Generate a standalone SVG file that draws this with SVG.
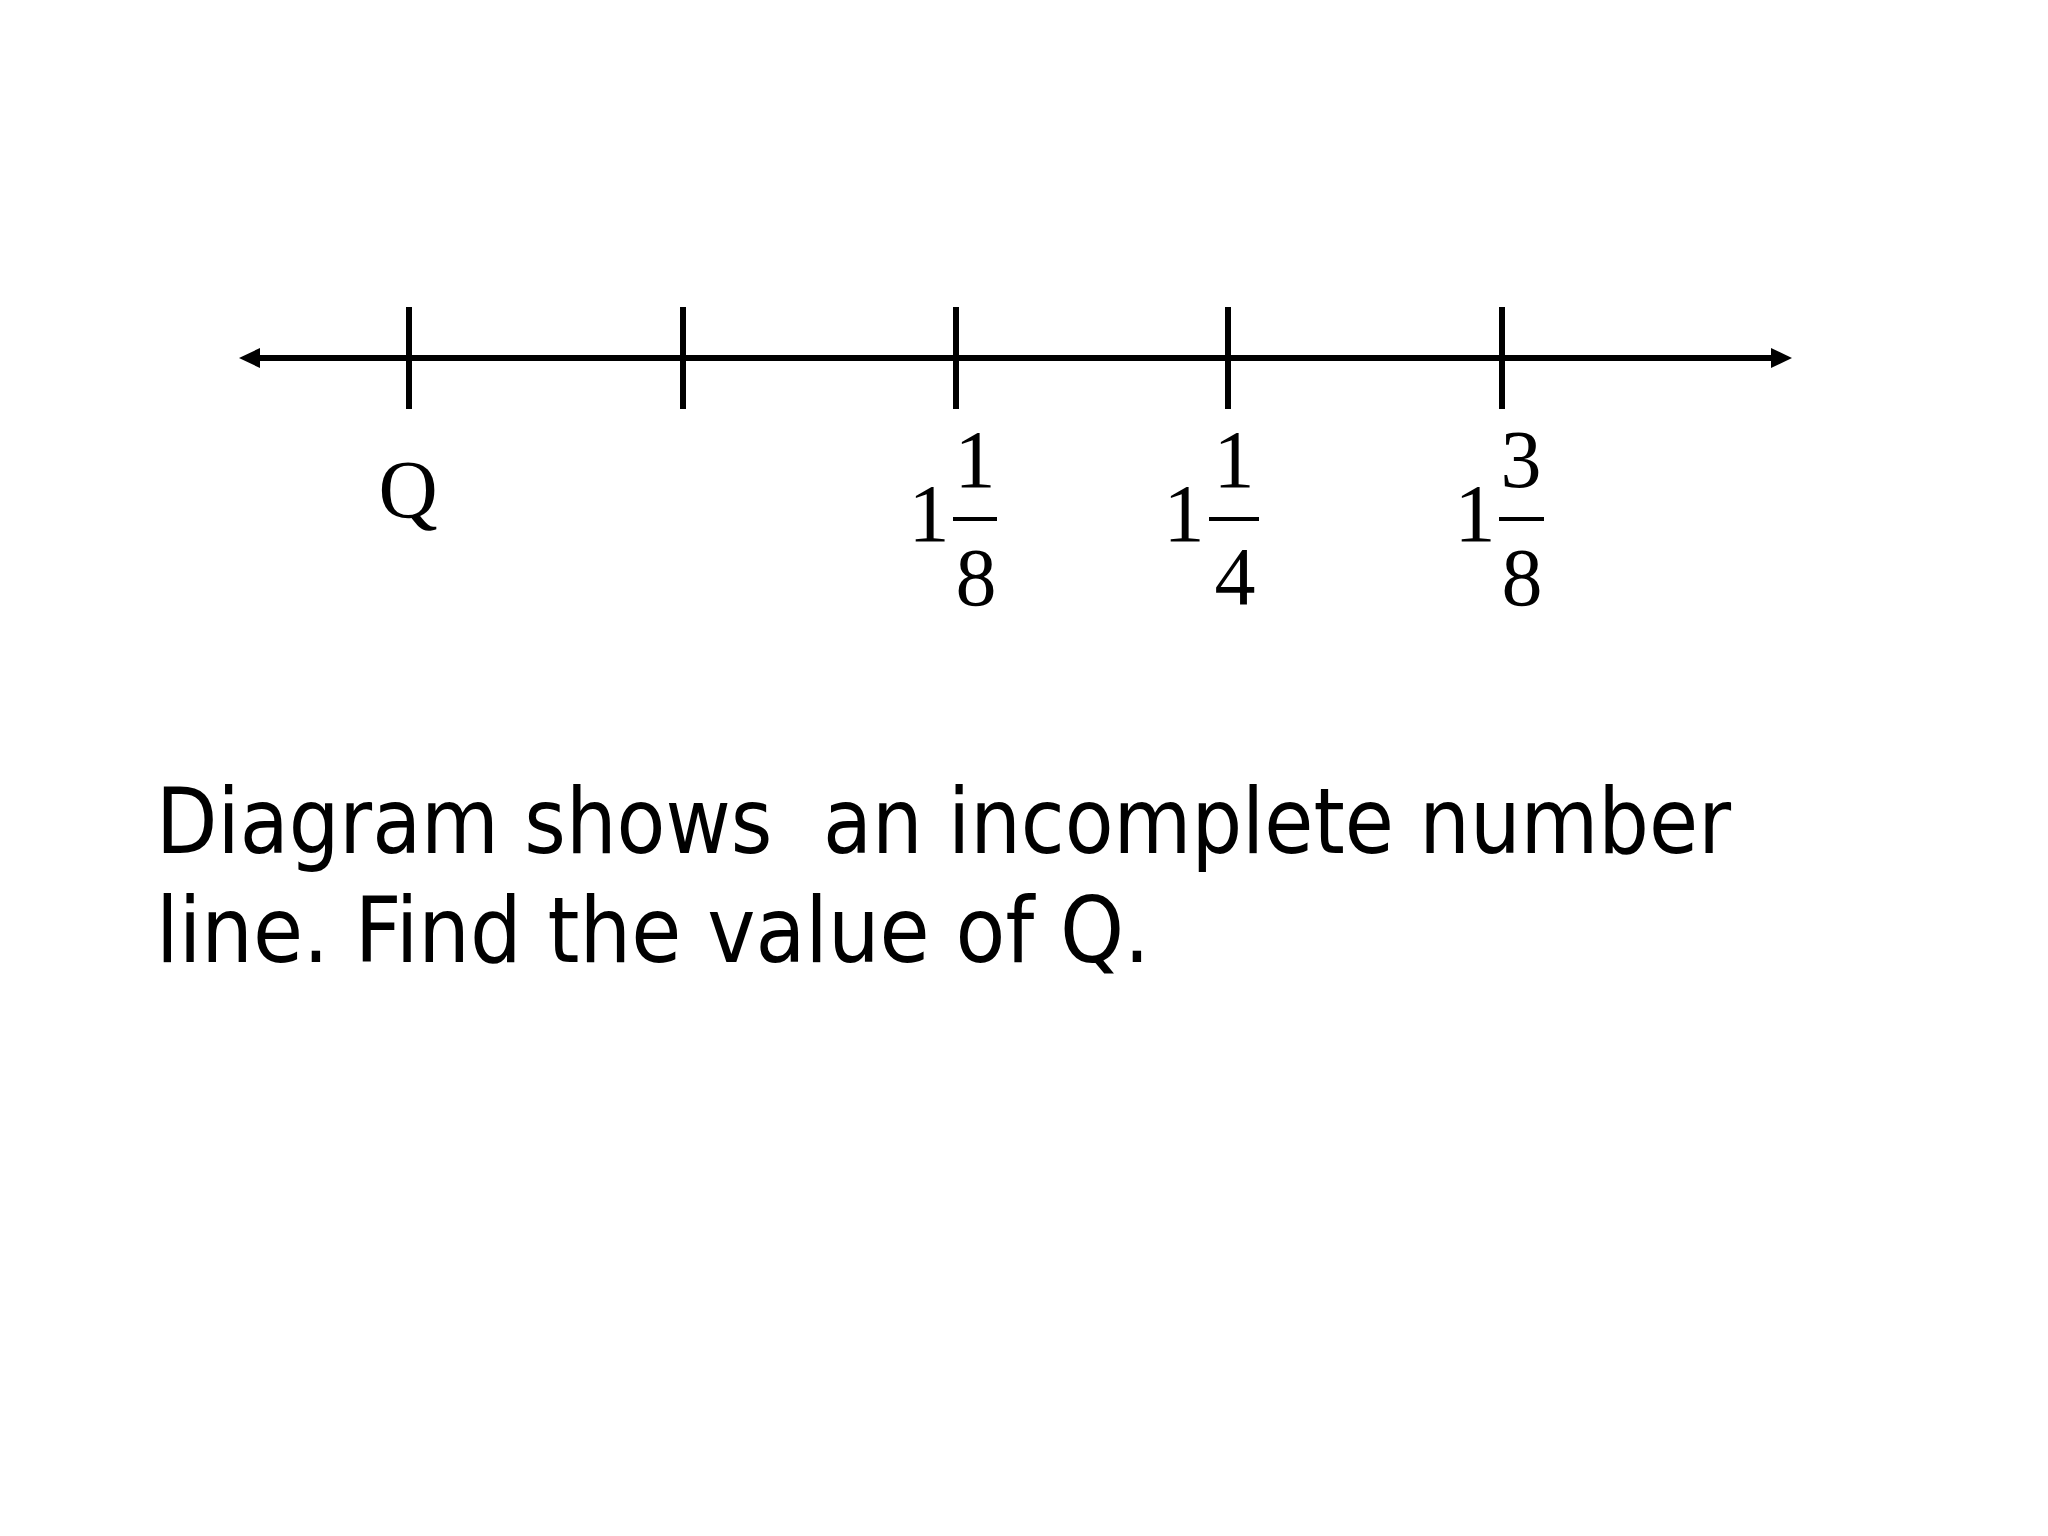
<svg xmlns="http://www.w3.org/2000/svg" width="2048" height="1536" viewBox="0 0 2048 1536">
<style>
.ax{stroke:#000;stroke-width:6;fill:none}
.head{fill:#000}
.tk{stroke:#000;stroke-width:6}
.bar{stroke:#000;stroke-width:4}
.m{font-family:"Liberation Serif","Times New Roman",serif;font-size:82px;fill:#000;text-anchor:middle}
.body{font-family:"DejaVu Sans","Verdana",sans-serif;font-size:90px;fill:#000}
</style>
<rect width="2048" height="1536" fill="#fff"/>
<g id="connectors">
<line class="ax" x1="255" y1="358" x2="1776" y2="358"/>
<polygon class="head" points="239,358 260,348 260,368"/>
<polygon class="head" points="1792,358 1771,348 1771,368"/>
</g>
<g id="ticks">
<line class="tk" x1="409" y1="307" x2="409" y2="409"/>
<line class="tk" x1="683" y1="307" x2="683" y2="409"/>
<line class="tk" x1="956" y1="307" x2="956" y2="409"/>
<line class="tk" x1="1228" y1="307" x2="1228" y2="409"/>
<line class="tk" x1="1502" y1="307" x2="1502" y2="409"/>
</g>
<g id="label-Q">
<text class="m" x="408" y="517">Q</text>
</g>
<g id="label-1-1-8">
<text class="m" x="929" y="541">1</text>
<text class="m" x="975" y="487">1</text>
<line class="bar" x1="953" y1="519" x2="997" y2="519"/>
<text class="m" x="976" y="605">8</text>
</g>
<g id="label-1-1-4">
<text class="m" x="1184" y="541">1</text>
<text class="m" x="1234" y="487">1</text>
<line class="bar" x1="1209" y1="519" x2="1259" y2="519"/>
<text class="m" x="1235" y="604">4</text>
</g>
<g id="label-1-3-8">
<text class="m" x="1475" y="541">1</text>
<text class="m" x="1521" y="487">3</text>
<line class="bar" x1="1499" y1="519" x2="1544" y2="519"/>
<text class="m" x="1522" y="605">8</text>
</g>
<g id="question">
<text class="body" x="156" y="853" xml:space="preserve" textLength="1575" lengthAdjust="spacingAndGlyphs">Diagram shows  an incomplete number</text>
<text class="body" x="156" y="962" textLength="994" lengthAdjust="spacingAndGlyphs">line. Find the value of Q.</text>
</g>
</svg>
